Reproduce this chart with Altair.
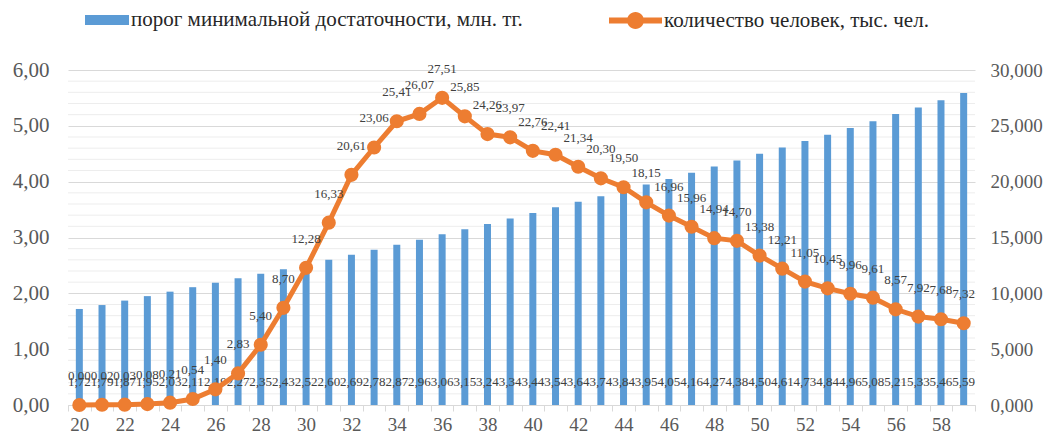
import altair as alt
import pandas as pd

ages = list(range(20, 60))
threshold = [1.72, 1.79, 1.87, 1.95, 2.03, 2.11, 2.19, 2.27, 2.35, 2.43,
             2.52, 2.60, 2.69, 2.78, 2.87, 2.96, 3.06, 3.15, 3.24, 3.34,
             3.44, 3.54, 3.64, 3.74, 3.84, 3.95, 4.05, 4.16, 4.27, 4.38,
             4.50, 4.61, 4.73, 4.84, 4.96, 5.08, 5.21, 5.33, 5.46, 5.59]
people = [0.00, 0.02, 0.03, 0.08, 0.21, 0.54, 1.40, 2.83, 5.40, 8.70,
          12.28, 16.33, 20.61, 23.06, 25.41, 26.07, 27.51, 25.85, 24.26, 23.97,
          22.76, 22.41, 21.34, 20.30, 19.50, 18.15, 16.96, 15.96, 14.94, 14.70,
          13.38, 12.21, 11.05, 10.45, 9.96, 9.61, 8.57, 7.92, 7.68, 7.32]
left_ticks = [0, 1, 2, 3, 4, 5, 6]
right_ticks = [0, 5, 10, 15, 20, 25, 30]
minor_ticks = [i / 5 for i in range(1, 30) if i % 5]

bar_name = "порог минимальной достаточности,  млн. тг."
line_name = "количество  человек, тыс. чел."

BLUE = "#5B9BD5"
ORANGE = "#ED7D31"
SERIF = "Liberation Serif"
LBL = "#595959"

df = pd.DataFrame({"age": ages, "thr": threshold, "ppl": people})
df["bar_series"] = bar_name
df["line_series"] = line_name
df["z"] = 0
grid_df = pd.DataFrame({"g": minor_ticks})

xscale = alt.Scale(type="band", paddingInner=0, paddingOuter=0)
xenc = alt.X(
    "age:O",
    scale=xscale,
    title=None,
    axis=alt.Axis(
        labelExpr="datum.value % 2 == 0 ? datum.label : ''",
        labelAngle=0, tickBand="extent", domainColor="#D9D9D9",
        tickColor="#D9D9D9", tickSize=6, labelPadding=4,
        labelFont=SERIF, labelFontSize=19, labelColor=LBL, grid=False,
    ),
)

yleft = alt.Scale(domain=[0, 6], nice=False)
yright = alt.Scale(domain=[0, 30], nice=False)

left_axis = alt.Axis(values=left_ticks, grid=True, gridColor="#D9D9D9",
                     domain=False, ticks=False,
                     labelExpr="replace(format(datum.value, '.2f'), '.', ',')",
                     labelFont=SERIF, labelFontSize=21, labelColor=LBL,
                     labelPadding=19)

base = alt.Chart(df)

minor = alt.Chart(grid_df).mark_rule(color="#EDEDED", strokeWidth=1).encode(
    y=alt.Y("g:Q", scale=yleft, title=None, axis=left_axis)
)

bars = base.mark_bar(size=7).encode(
    x=xenc,
    y=alt.Y("thr:Q", scale=yleft, title=None, axis=left_axis),
    color=alt.Color("bar_series:N",
                    scale=alt.Scale(domain=[bar_name], range=[BLUE]),
                    legend=alt.Legend(orient="none", legendX=17, legendY=-72,
                                      title=None, padding=0, labelLimit=1000,
                                      symbolType="M-1,-0.23H1V0.23H-1Z",
                                      symbolSize=1936, symbolStrokeWidth=0,
                                      labelOffset=2,
                                      labelFont=SERIF, labelFontSize=21,
                                      labelColor="#262626")),
)

bar_text = base.transform_calculate(
    lbl="replace(format(datum.thr, '.2f'), '.', ',')"
).mark_text(font=SERIF, fontSize=13, color="#404040", dy=-23).encode(
    x=alt.X("age:O", scale=xscale),
    y=alt.Y("z:Q", scale=yleft, title=None, axis=left_axis),
    text="lbl:N",
)

left = alt.layer(minor, bars, bar_text)

right_axis = alt.Axis(orient="right", values=right_ticks, grid=False,
                      domain=False, ticks=False,
                      labelExpr="replace(format(datum.value, '.3f'), '.', ',')",
                      labelFont=SERIF, labelFontSize=19, labelColor=LBL,
                      labelPadding=15)

line = base.mark_line(color=ORANGE, strokeWidth=5).encode(
    x=alt.X("age:O", scale=xscale),
    y=alt.Y("ppl:Q", scale=yright, title=None, axis=right_axis),
)

dots = base.mark_circle(size=200, opacity=1).encode(
    x=alt.X("age:O", scale=xscale),
    y=alt.Y("ppl:Q", scale=yright, title=None, axis=right_axis),
    color=alt.Color("line_series:N",
                    scale=alt.Scale(domain=[line_name], range=[ORANGE]),
                    legend=alt.Legend(orient="none", legendX=541, legendY=-76,
                                      title=None, padding=0, labelLimit=1000,
                                      symbolType="M-1,-0.11H1V0.11H-1Z M0.32,0A0.32,0.32 0 1 1 -0.32,0A0.32,0.32 0 1 1 0.32,0Z",
                                      symbolSize=2809, symbolStrokeWidth=0,
                                      labelOffset=2,
                                      labelFont=SERIF, labelFontSize=21,
                                      labelColor="#262626")),
)

line_text = base.transform_calculate(
    lbl="replace(format(datum.ppl, '.2f'), '.', ',')"
).mark_text(font=SERIF, fontSize=13, color="#404040", dy=-29).encode(
    x=alt.X("age:O", scale=xscale),
    y=alt.Y("ppl:Q", scale=yright, title=None, axis=right_axis),
    text="lbl:N",
)

right = alt.layer(line, dots, line_text)

chart = alt.layer(left, right).resolve_scale(
    y="independent", color="independent"
).properties(
    width=907, height=335,
    autosize=alt.AutoSizeParams(type="none"),
    padding={"left": 60, "top": 62, "right": 73, "bottom": 29},
).configure_view(stroke=None)

chart.save("out.html", embed_options={"renderer": "svg", "actions": False})
